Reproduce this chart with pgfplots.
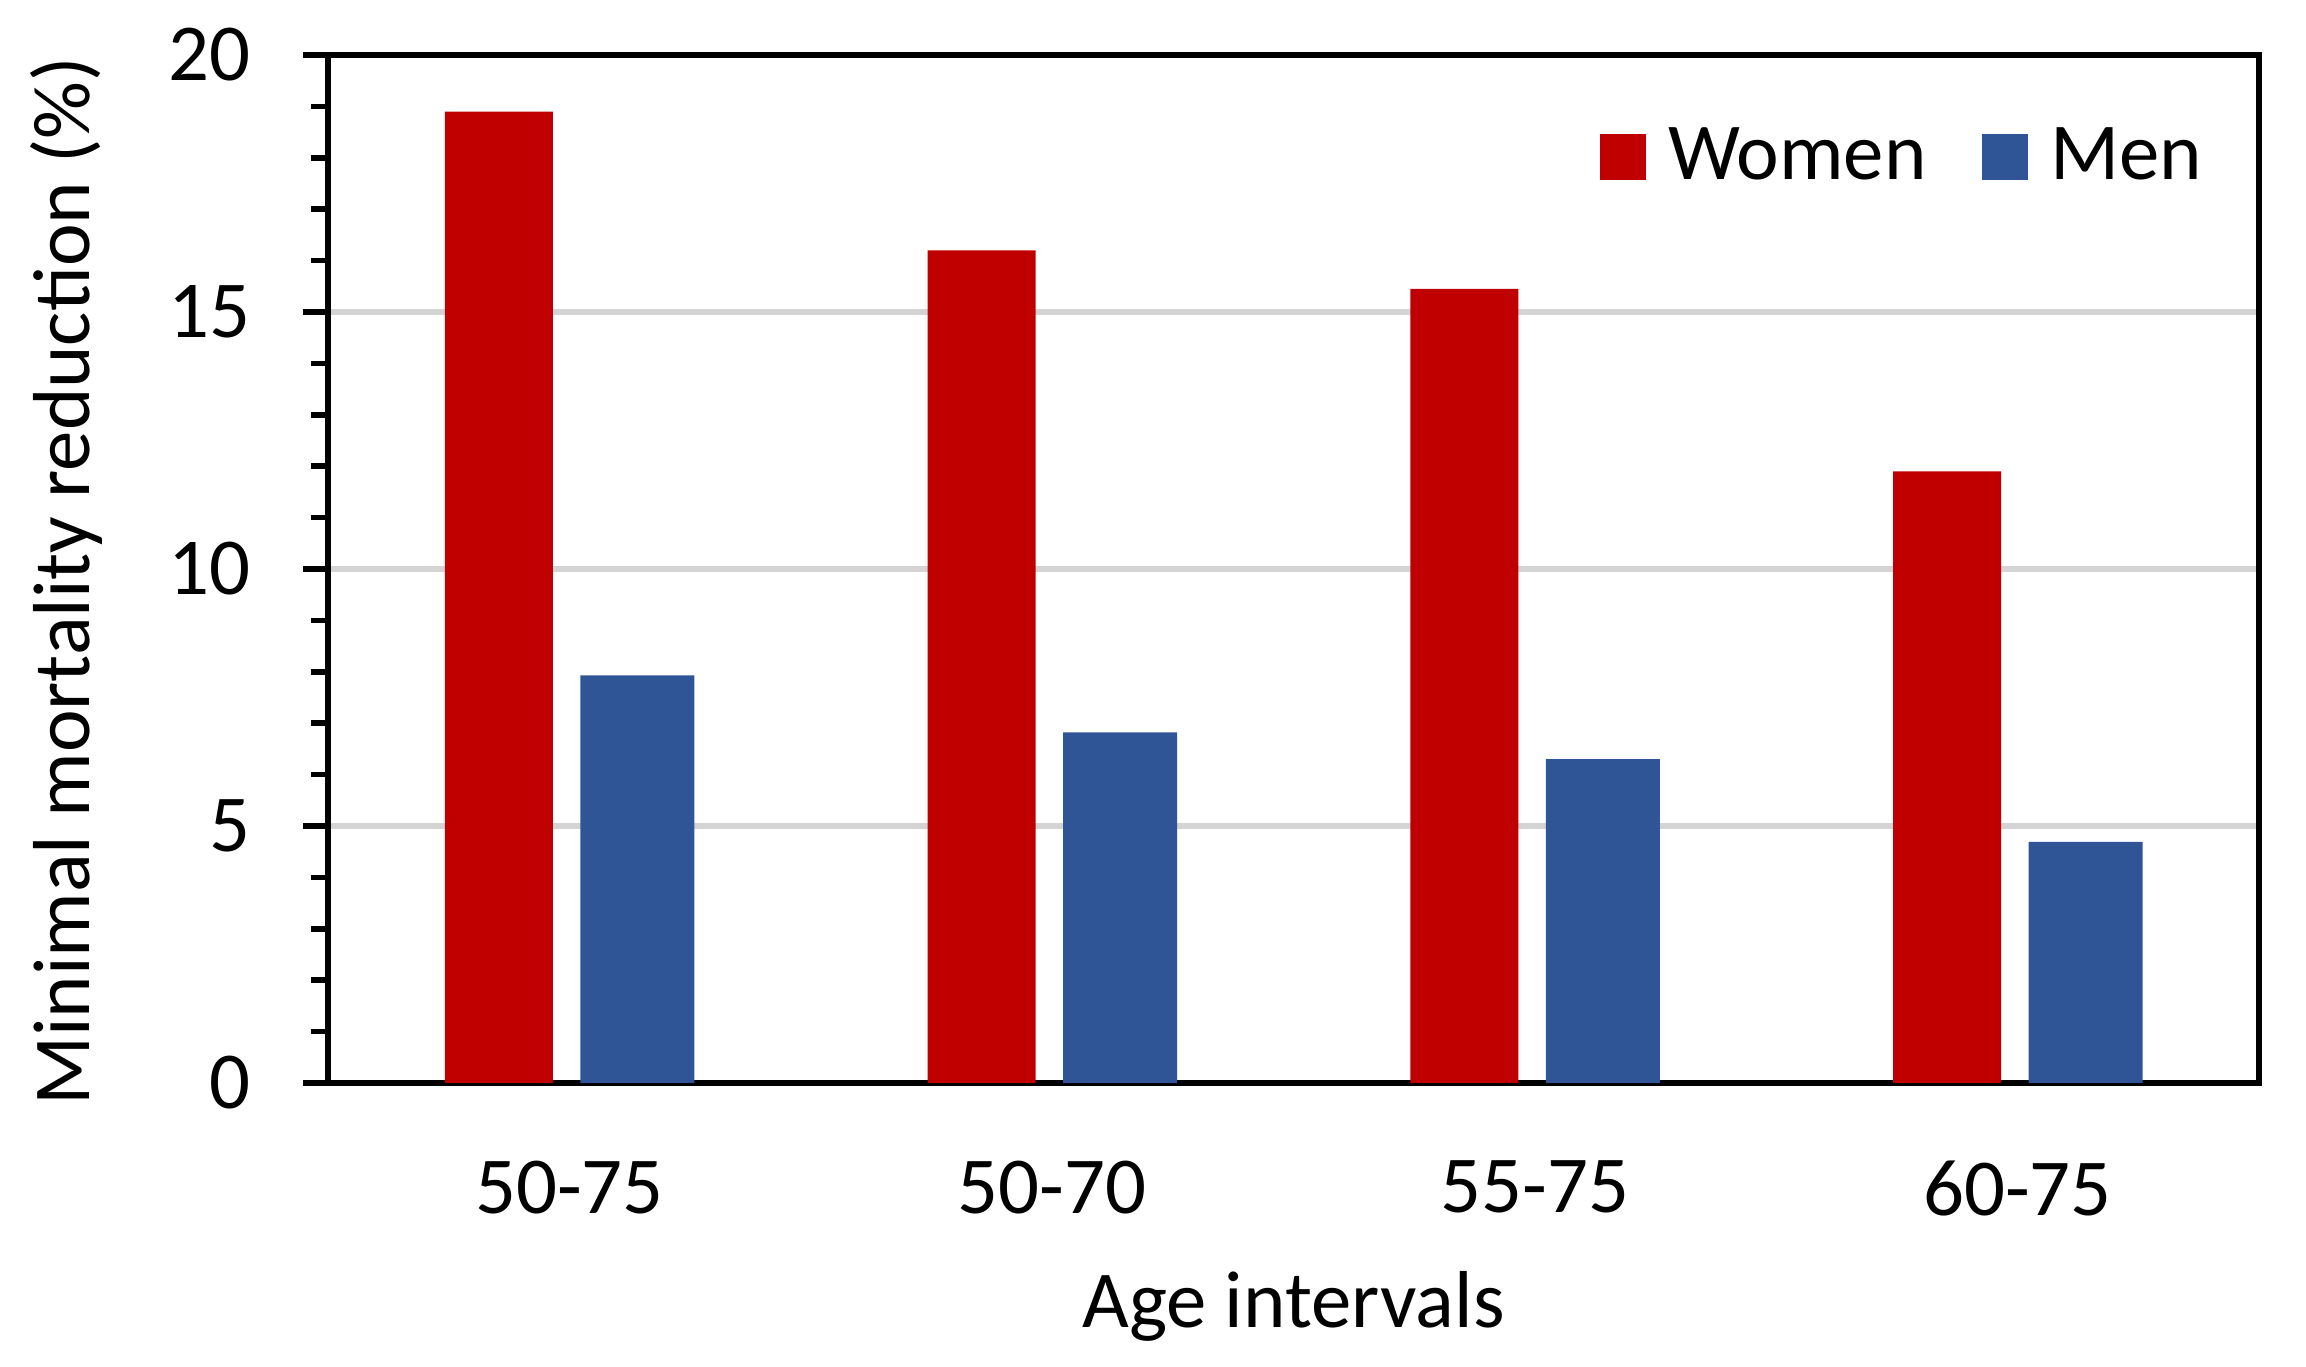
\documentclass[border=0pt]{standalone}
\usepackage{fontspec}
\setmainfont{Carlito}
\usepackage{pgfplots}
\pgfplotsset{compat=1.18}

\definecolor{womenred}{HTML}{C00000}
\definecolor{menblue}{HTML}{2F5597}
\definecolor{gridgray}{HTML}{D4D4D4}

\newcommand{\chartfont}{\fontsize{20.2}{24.2}\selectfont}

\begin{document}
\begin{tikzpicture}
    \useasboundingbox (-82pt,-71pt) rectangle (494.5pt,270.75pt);
    \begin{axis}[
            at={(0,0)}, anchor=south west,
            scale only axis,
            width=482.75pt, height=257pt,
            xmin=-0.5, xmax=3.5,
            ymin=0, ymax=20,
            xtick={0,1,2,3},
            xticklabels={50-75,50-70,55-75,60-75},
            ytick={0,5,10,15,20},
            minor y tick num=4,
            ytick pos=left,
            x tick style={draw=none},
            y tick style={black, line width=1.4pt},
            tick align=outside,
            major tick length=6.25pt,
            minor tick length=4.25pt,
            axis line style={black, line width=1.4pt},
            ymajorgrids,
            major grid style={gridgray, line width=1.3pt},
            /pgf/number format/assume math mode=true,
            ticklabel style={font=\chartfont},
            yticklabel style={xshift=-9.5pt},
            xticklabel style={yshift=-9.75pt},
            label style={font=\chartfont},
            xlabel={Age intervals},
            ylabel={Minimal mortality reduction (\%)},
            xlabel style={at={(axis description cs:0.5,0)}, anchor=north, yshift=-43.5pt},
            ylabel style={at={(axis description cs:-0.1616,0.488)}, anchor=north},
            legend style={font=\chartfont, draw=none, fill=none, inner sep=0pt,
                nodes={inner sep=0pt},
                at={(axis description cs:1,1)}, anchor=north east,
                xshift=-14pt, yshift=-18pt,
                /tikz/every odd column/.append style={column sep=5.5pt},
                /tikz/every even column/.append style={column sep=14pt}},
            legend columns=2,
            legend image code/.code={\fill[#1] (0pt,-5.75pt) rectangle (11.5pt,5.75pt);},
        ]
        \addplot[ybar, fill=womenred, draw=none, bar width=27pt, bar shift=-17.6pt]
            coordinates {(0,18.9) (1,16.2) (2,15.45) (3,11.9)};
        \addlegendentry{Women}
        \addplot[ybar, fill=menblue, draw=none, bar width=28.5pt, bar shift=17pt]
            coordinates {(0,7.93) (1,6.82) (2,6.3) (3,4.69)};
        \addlegendentry{Men}
    \end{axis}
\end{tikzpicture}
\end{document}
